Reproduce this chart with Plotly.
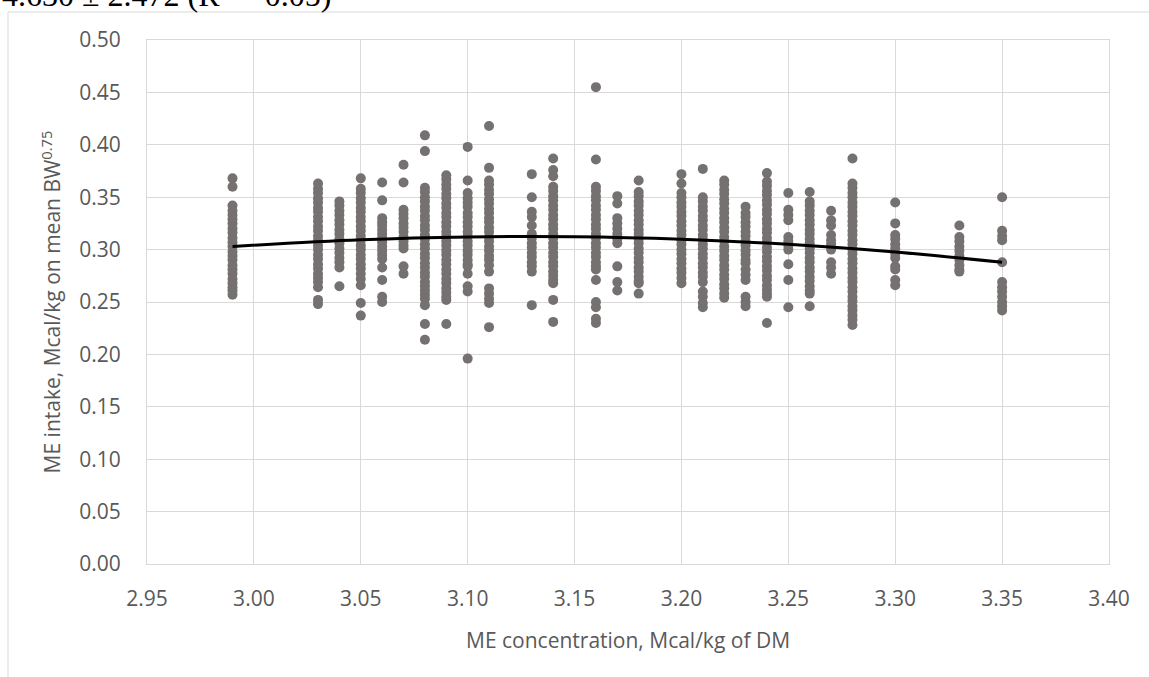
import plotly.graph_objects as go

# ME concentration levels (Mcal/kg of DM) at which observations were recorded
me_conc = [2.99, 3.03, 3.04, 3.05, 3.06, 3.07, 3.08, 3.09, 3.10, 3.11, 3.13, 3.14,
           3.16, 3.17, 3.18, 3.20, 3.21, 3.22, 3.23, 3.24, 3.25, 3.26, 3.27, 3.28,
           3.30, 3.33, 3.35]

# ME intake (Mcal/kg on mean BW^0.75) observed at each concentration level
intake_2_99 = [0.368, 0.360, 0.342, 0.337, 0.333, 0.329, 0.325, 0.320, 0.316, 0.311, 0.307, 0.303,
               0.298, 0.294, 0.290, 0.285, 0.281, 0.277, 0.272, 0.268, 0.264, 0.261, 0.257]
intake_3_03 = [0.363, 0.358, 0.354, 0.349, 0.345, 0.340, 0.336, 0.331, 0.327, 0.322, 0.318, 0.313,
               0.309, 0.304, 0.300, 0.295, 0.291, 0.286, 0.282, 0.277, 0.273, 0.269, 0.264, 0.252, 0.248]
intake_3_04 = [0.346, 0.342, 0.337, 0.333, 0.328, 0.324, 0.319, 0.315, 0.310, 0.306, 0.301, 0.297,
               0.292, 0.288, 0.283, 0.265]
intake_3_05 = [0.368, 0.358, 0.354, 0.349, 0.345, 0.340, 0.336, 0.331, 0.327, 0.322, 0.318, 0.313,
               0.309, 0.304, 0.300, 0.295, 0.291, 0.286, 0.282, 0.277, 0.272, 0.266, 0.249, 0.237]
intake_3_06 = [0.364, 0.347, 0.330, 0.326, 0.323, 0.319, 0.315, 0.311, 0.307, 0.303, 0.299, 0.295,
               0.291, 0.283, 0.271, 0.255, 0.250]
intake_3_07 = [0.381, 0.364, 0.338, 0.334, 0.330, 0.325, 0.321, 0.317, 0.312, 0.308, 0.304, 0.301,
               0.284, 0.277]
intake_3_08 = [0.409, 0.394, 0.359, 0.355, 0.350, 0.346, 0.341, 0.337, 0.332, 0.328, 0.323, 0.319,
               0.314, 0.310, 0.305, 0.301, 0.296, 0.292, 0.287, 0.283, 0.278, 0.274, 0.269, 0.265,
               0.261, 0.257, 0.253, 0.247, 0.229, 0.214]
intake_3_09 = [0.371, 0.367, 0.362, 0.358, 0.353, 0.349, 0.344, 0.340, 0.335, 0.331, 0.326, 0.322,
               0.317, 0.313, 0.308, 0.304, 0.299, 0.295, 0.290, 0.286, 0.281, 0.277, 0.272, 0.268,
               0.263, 0.259, 0.255, 0.252, 0.229]
intake_3_10 = [0.398, 0.366, 0.354, 0.349, 0.345, 0.341, 0.335, 0.331, 0.326, 0.322, 0.317, 0.313,
               0.308, 0.304, 0.299, 0.295, 0.290, 0.286, 0.284, 0.277, 0.265, 0.260, 0.196]
intake_3_11 = [0.418, 0.378, 0.366, 0.362, 0.357, 0.353, 0.348, 0.344, 0.339, 0.335, 0.330, 0.326,
               0.321, 0.317, 0.312, 0.308, 0.303, 0.299, 0.294, 0.290, 0.285, 0.279, 0.263, 0.258,
               0.253, 0.249, 0.226]
intake_3_13 = [0.372, 0.350, 0.336, 0.331, 0.323, 0.315, 0.311, 0.306, 0.302, 0.297, 0.293, 0.288,
               0.284, 0.279, 0.247]
intake_3_14 = [0.387, 0.376, 0.370, 0.360, 0.356, 0.351, 0.347, 0.342, 0.338, 0.333, 0.329, 0.324,
               0.320, 0.315, 0.311, 0.306, 0.302, 0.297, 0.293, 0.288, 0.284, 0.279, 0.275, 0.271,
               0.268, 0.252, 0.231]
intake_3_16 = [0.455, 0.386, 0.360, 0.356, 0.351, 0.347, 0.342, 0.338, 0.333, 0.329, 0.324, 0.320,
               0.315, 0.311, 0.306, 0.302, 0.297, 0.293, 0.288, 0.284, 0.281, 0.271, 0.250, 0.245,
               0.234, 0.230]
intake_3_17 = [0.351, 0.344, 0.330, 0.325, 0.320, 0.315, 0.310, 0.306, 0.284, 0.269, 0.261]
intake_3_18 = [0.366, 0.355, 0.351, 0.346, 0.342, 0.337, 0.333, 0.328, 0.324, 0.319, 0.315, 0.310,
               0.306, 0.301, 0.297, 0.292, 0.288, 0.283, 0.279, 0.274, 0.270, 0.268, 0.258]
intake_3_20 = [0.372, 0.363, 0.354, 0.350, 0.345, 0.341, 0.336, 0.332, 0.327, 0.323, 0.318, 0.314,
               0.309, 0.305, 0.300, 0.296, 0.291, 0.287, 0.282, 0.278, 0.273, 0.268]
intake_3_21 = [0.377, 0.350, 0.346, 0.341, 0.337, 0.332, 0.328, 0.323, 0.319, 0.314, 0.310, 0.305,
               0.301, 0.296, 0.292, 0.287, 0.283, 0.278, 0.274, 0.269, 0.260, 0.255, 0.249, 0.245]
intake_3_22 = [0.366, 0.362, 0.357, 0.353, 0.348, 0.344, 0.339, 0.335, 0.330, 0.326, 0.321, 0.317,
               0.312, 0.308, 0.303, 0.299, 0.294, 0.290, 0.285, 0.281, 0.276, 0.272, 0.267, 0.263,
               0.258, 0.254]
intake_3_23 = [0.341, 0.335, 0.331, 0.326, 0.322, 0.317, 0.313, 0.308, 0.304, 0.299, 0.295, 0.290,
               0.287, 0.281, 0.276, 0.271, 0.255, 0.250, 0.246]
intake_3_24 = [0.373, 0.365, 0.361, 0.356, 0.352, 0.347, 0.343, 0.338, 0.334, 0.329, 0.325, 0.320,
               0.316, 0.311, 0.307, 0.302, 0.298, 0.293, 0.289, 0.284, 0.280, 0.275, 0.271, 0.266,
               0.262, 0.258, 0.255, 0.230]
intake_3_25 = [0.354, 0.338, 0.333, 0.328, 0.312, 0.308, 0.304, 0.300, 0.286, 0.271, 0.245]
intake_3_26 = [0.355, 0.346, 0.342, 0.337, 0.333, 0.328, 0.324, 0.319, 0.315, 0.310, 0.306, 0.301,
               0.297, 0.292, 0.288, 0.283, 0.279, 0.274, 0.270, 0.265, 0.261, 0.258, 0.246]
intake_3_27 = [0.337, 0.328, 0.323, 0.314, 0.309, 0.305, 0.300, 0.288, 0.283, 0.277]
intake_3_28 = [0.387, 0.363, 0.359, 0.354, 0.350, 0.345, 0.341, 0.336, 0.332, 0.327, 0.323, 0.318,
               0.314, 0.309, 0.305, 0.300, 0.296, 0.291, 0.287, 0.282, 0.278, 0.273, 0.269, 0.264,
               0.260, 0.255, 0.251, 0.246, 0.242, 0.237, 0.233, 0.228]
intake_3_30 = [0.345, 0.325, 0.314, 0.310, 0.305, 0.301, 0.296, 0.292, 0.284, 0.281, 0.271, 0.266]
intake_3_33 = [0.323, 0.312, 0.308, 0.303, 0.299, 0.294, 0.290, 0.285, 0.281, 0.279]
intake_3_35 = [0.350, 0.318, 0.313, 0.309, 0.288, 0.269, 0.264, 0.260, 0.255, 0.250, 0.246, 0.242]

intake_groups = [intake_2_99, intake_3_03, intake_3_04, intake_3_05, intake_3_06, intake_3_07,
                 intake_3_08, intake_3_09, intake_3_10, intake_3_11, intake_3_13, intake_3_14,
                 intake_3_16, intake_3_17, intake_3_18, intake_3_20, intake_3_21, intake_3_22,
                 intake_3_23, intake_3_24, intake_3_25, intake_3_26, intake_3_27, intake_3_28,
                 intake_3_30, intake_3_33, intake_3_35]

# Polynomial trend line
trend_x = [2.99, 3.05, 3.10, 3.15, 3.20, 3.25, 3.30, 3.35]
trend_y = [0.3030, 0.3094, 0.3121, 0.3123, 0.3099, 0.3051, 0.2977, 0.2879]

x_ticks = [2.95, 3.00, 3.05, 3.10, 3.15, 3.20, 3.25, 3.30, 3.35, 3.40]
y_ticks = [0.00, 0.05, 0.10, 0.15, 0.20, 0.25, 0.30, 0.35, 0.40, 0.45, 0.50]

xs, ys = [], []
for c, vals in zip(me_conc, intake_groups):
    xs.extend([c] * len(vals))
    ys.extend(vals)

W, H = 1149, 677
L, R, T, B = 147, 40, 40, 113
PW, PH = W - L - R, H - T - B


def px(xp):
    return (xp - L) / PW


def py(yp):
    return (H - B - yp) / PH


fig = go.Figure()
fig.add_trace(go.Scatter(
    x=xs, y=ys, mode="markers",
    marker=dict(color="#767171", size=10, line=dict(width=0)),
    showlegend=False, hoverinfo="x+y"))
fig.add_trace(go.Scatter(
    x=trend_x, y=trend_y, mode="lines",
    line=dict(color="black", width=3, shape="spline"),
    showlegend=False, hoverinfo="skip"))

tick_font = dict(family="Open Sans, DejaVu Sans, sans-serif", size=21, color="#595959")
axis_common = dict(showgrid=True, gridcolor="#d9d9d9", gridwidth=1, zeroline=False,
                   showline=True, linecolor="#d9d9d9", linewidth=1, mirror=True,
                   ticks="outside", tickcolor="rgba(0,0,0,0)", tickfont=tick_font)

fig.update_layout(
    width=W, height=H,
    margin=dict(l=L, r=R, t=T, b=B, pad=0),
    paper_bgcolor="white", plot_bgcolor="white",
    xaxis=dict(range=[2.95, 3.40], tickvals=x_ticks, ticktext=[f"{v:.2f}" for v in x_ticks],
               ticklen=16, **axis_common),
    yaxis=dict(range=[0, 0.50], tickvals=y_ticks, ticktext=[f"{v:.2f}" for v in y_ticks],
               ticklen=21,
               title=dict(text="ME intake, Mcal/kg on mean BW<sup>0.75</sup>", font=tick_font,
                          standoff=12),
               **axis_common),
    annotations=[
        dict(text="ME concentration, Mcal/kg of DM", xref="paper", yref="paper",
             x=0.5, y=py(640), xanchor="center", yanchor="middle", showarrow=False,
             font=tick_font),
        dict(text="4.630 ± 2.472 (R<sup>2</sup> = 0.05)", xref="paper", yref="paper",
             x=px(333), y=py(15), xanchor="right", yanchor="bottom", showarrow=False,
             font=dict(family="Liberation Serif, Times New Roman, serif", size=32, color="black")),
    ],
    shapes=[
        dict(type="line", xref="paper", yref="paper", x0=px(8), x1=px(1160), y0=py(12), y1=py(12),
             line=dict(color="#d9d9d9", width=1)),
        dict(type="line", xref="paper", yref="paper", x0=px(8), x1=px(8), y0=py(12), y1=py(690),
             line=dict(color="#d9d9d9", width=1)),
    ],
)

fig.write_html("out.html")
